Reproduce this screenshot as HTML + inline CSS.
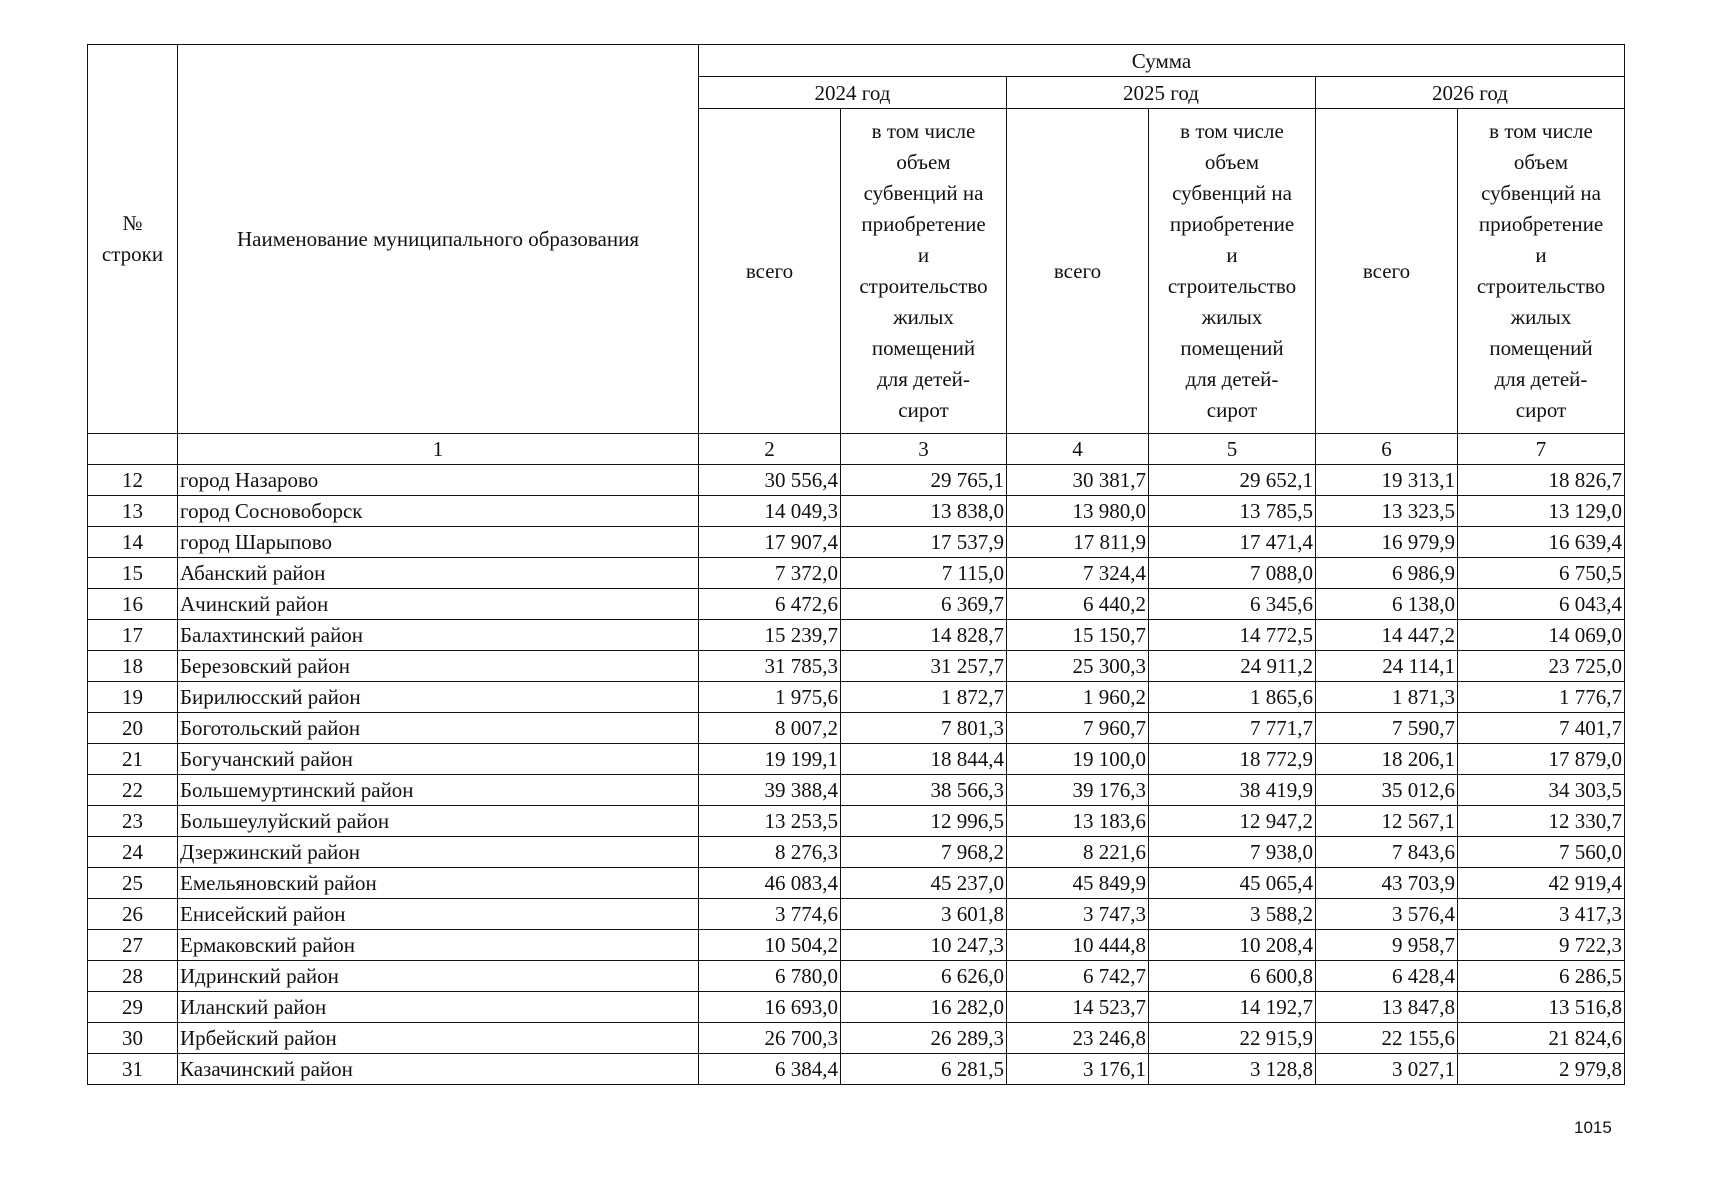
<!DOCTYPE html>
<html><head><meta charset="utf-8">
<style>
body{margin:0;width:1715px;height:1200px;background:#fff;position:relative;overflow:hidden;font-family:"Liberation Serif","DejaVu Serif",serif;color:#111}
table{position:absolute;left:87px;top:44px;border-collapse:collapse;table-layout:fixed;font-size:21px}
td{border:1.5px solid #111;padding:0 2px;line-height:26px;white-space:nowrap;overflow:hidden}
.c{text-align:center}.r{text-align:right}.l{text-align:left}
.h{line-height:31px;vertical-align:middle}
tr.d{height:31px}
#pn{position:absolute;left:1574px;top:1118px;font-family:"Liberation Sans",sans-serif;font-size:17px}
</style></head><body>
<table>
<colgroup><col style="width:90px"><col style="width:521px"><col style="width:142px"><col style="width:166px"><col style="width:142px"><col style="width:167px"><col style="width:142px"><col style="width:167px"></colgroup>
<tr style="height:32px"><td rowspan="3" class="c h">№<br>строки</td><td rowspan="3" class="c h">Наименование муниципального образования</td><td colspan="6" class="c">Сумма</td></tr>
<tr style="height:32px"><td colspan="2" class="c">2024 год</td><td colspan="2" class="c">2025 год</td><td colspan="2" class="c">2026 год</td></tr>
<tr style="height:325px"><td class="c">всего</td><td class="c h">в том числе<br>объем<br>субвенций на<br>приобретение<br>и<br>строительство<br>жилых<br>помещений<br>для детей-<br>сирот</td><td class="c">всего</td><td class="c h">в том числе<br>объем<br>субвенций на<br>приобретение<br>и<br>строительство<br>жилых<br>помещений<br>для детей-<br>сирот</td><td class="c">всего</td><td class="c h">в том числе<br>объем<br>субвенций на<br>приобретение<br>и<br>строительство<br>жилых<br>помещений<br>для детей-<br>сирот</td></tr>
<tr style="height:31px"><td></td><td class="c">1</td><td class="c">2</td><td class="c">3</td><td class="c">4</td><td class="c">5</td><td class="c">6</td><td class="c">7</td></tr>
<tr class="d"><td class="c">12</td><td>город Назарово</td><td class="r">30 556,4</td><td class="r">29 765,1</td><td class="r">30 381,7</td><td class="r">29 652,1</td><td class="r">19 313,1</td><td class="r">18 826,7</td></tr>
<tr class="d"><td class="c">13</td><td>город Сосновоборск</td><td class="r">14 049,3</td><td class="r">13 838,0</td><td class="r">13 980,0</td><td class="r">13 785,5</td><td class="r">13 323,5</td><td class="r">13 129,0</td></tr>
<tr class="d"><td class="c">14</td><td>город Шарыпово</td><td class="r">17 907,4</td><td class="r">17 537,9</td><td class="r">17 811,9</td><td class="r">17 471,4</td><td class="r">16 979,9</td><td class="r">16 639,4</td></tr>
<tr class="d"><td class="c">15</td><td>Абанский район</td><td class="r">7 372,0</td><td class="r">7 115,0</td><td class="r">7 324,4</td><td class="r">7 088,0</td><td class="r">6 986,9</td><td class="r">6 750,5</td></tr>
<tr class="d"><td class="c">16</td><td>Ачинский район</td><td class="r">6 472,6</td><td class="r">6 369,7</td><td class="r">6 440,2</td><td class="r">6 345,6</td><td class="r">6 138,0</td><td class="r">6 043,4</td></tr>
<tr class="d"><td class="c">17</td><td>Балахтинский район</td><td class="r">15 239,7</td><td class="r">14 828,7</td><td class="r">15 150,7</td><td class="r">14 772,5</td><td class="r">14 447,2</td><td class="r">14 069,0</td></tr>
<tr class="d"><td class="c">18</td><td>Березовский район</td><td class="r">31 785,3</td><td class="r">31 257,7</td><td class="r">25 300,3</td><td class="r">24 911,2</td><td class="r">24 114,1</td><td class="r">23 725,0</td></tr>
<tr class="d"><td class="c">19</td><td>Бирилюсский район</td><td class="r">1 975,6</td><td class="r">1 872,7</td><td class="r">1 960,2</td><td class="r">1 865,6</td><td class="r">1 871,3</td><td class="r">1 776,7</td></tr>
<tr class="d"><td class="c">20</td><td>Боготольский район</td><td class="r">8 007,2</td><td class="r">7 801,3</td><td class="r">7 960,7</td><td class="r">7 771,7</td><td class="r">7 590,7</td><td class="r">7 401,7</td></tr>
<tr class="d"><td class="c">21</td><td>Богучанский район</td><td class="r">19 199,1</td><td class="r">18 844,4</td><td class="r">19 100,0</td><td class="r">18 772,9</td><td class="r">18 206,1</td><td class="r">17 879,0</td></tr>
<tr class="d"><td class="c">22</td><td>Большемуртинский район</td><td class="r">39 388,4</td><td class="r">38 566,3</td><td class="r">39 176,3</td><td class="r">38 419,9</td><td class="r">35 012,6</td><td class="r">34 303,5</td></tr>
<tr class="d"><td class="c">23</td><td>Большеулуйский район</td><td class="r">13 253,5</td><td class="r">12 996,5</td><td class="r">13 183,6</td><td class="r">12 947,2</td><td class="r">12 567,1</td><td class="r">12 330,7</td></tr>
<tr class="d"><td class="c">24</td><td>Дзержинский район</td><td class="r">8 276,3</td><td class="r">7 968,2</td><td class="r">8 221,6</td><td class="r">7 938,0</td><td class="r">7 843,6</td><td class="r">7 560,0</td></tr>
<tr class="d"><td class="c">25</td><td>Емельяновский район</td><td class="r">46 083,4</td><td class="r">45 237,0</td><td class="r">45 849,9</td><td class="r">45 065,4</td><td class="r">43 703,9</td><td class="r">42 919,4</td></tr>
<tr class="d"><td class="c">26</td><td>Енисейский район</td><td class="r">3 774,6</td><td class="r">3 601,8</td><td class="r">3 747,3</td><td class="r">3 588,2</td><td class="r">3 576,4</td><td class="r">3 417,3</td></tr>
<tr class="d"><td class="c">27</td><td>Ермаковский район</td><td class="r">10 504,2</td><td class="r">10 247,3</td><td class="r">10 444,8</td><td class="r">10 208,4</td><td class="r">9 958,7</td><td class="r">9 722,3</td></tr>
<tr class="d"><td class="c">28</td><td>Идринский район</td><td class="r">6 780,0</td><td class="r">6 626,0</td><td class="r">6 742,7</td><td class="r">6 600,8</td><td class="r">6 428,4</td><td class="r">6 286,5</td></tr>
<tr class="d"><td class="c">29</td><td>Иланский район</td><td class="r">16 693,0</td><td class="r">16 282,0</td><td class="r">14 523,7</td><td class="r">14 192,7</td><td class="r">13 847,8</td><td class="r">13 516,8</td></tr>
<tr class="d"><td class="c">30</td><td>Ирбейский район</td><td class="r">26 700,3</td><td class="r">26 289,3</td><td class="r">23 246,8</td><td class="r">22 915,9</td><td class="r">22 155,6</td><td class="r">21 824,6</td></tr>
<tr class="d"><td class="c">31</td><td>Казачинский район</td><td class="r">6 384,4</td><td class="r">6 281,5</td><td class="r">3 176,1</td><td class="r">3 128,8</td><td class="r">3 027,1</td><td class="r">2 979,8</td></tr>
</table>
<div id="pn">1015</div>
</body></html>
